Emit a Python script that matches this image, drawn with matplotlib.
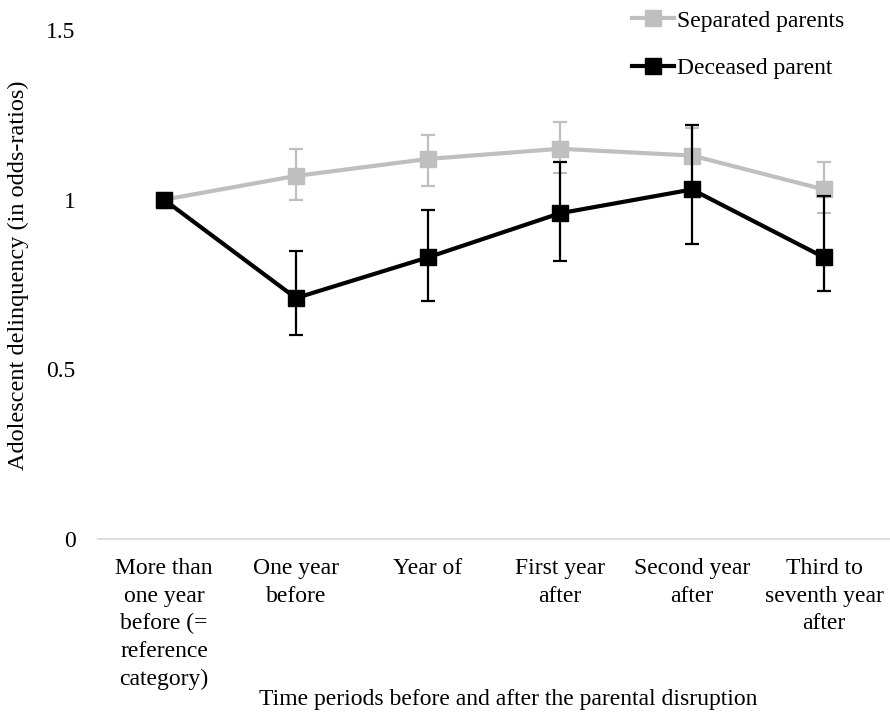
import matplotlib
matplotlib.use("Agg")
import matplotlib.pyplot as plt
import numpy as np

categories = ["More than\none year\nbefore (=\nreference\ncategory)", "One year\nbefore", "Year of",
              "First year\nafter", "Second year\nafter", "Third to\nseventh year\nafter"]
separated = [1.0, 1.07, 1.12, 1.15, 1.13, 1.03]
separated_lo = [1.0, 1.00, 1.04, 1.08, 1.05, 0.96]
separated_hi = [1.0, 1.15, 1.19, 1.23, 1.21, 1.11]
deceased = [1.0, 0.71, 0.83, 0.96, 1.03, 0.83]
deceased_lo = [1.0, 0.60, 0.70, 0.82, 0.87, 0.73]
deceased_hi = [1.0, 0.85, 0.97, 1.11, 1.22, 1.01]
yticks = [0, 0.5, 1, 1.5]
ytick_labels = ["0", "0.5", "1", "1.5"]

plt.rcParams['font.family'] = ['Liberation Serif', 'DejaVu Serif']

fig = plt.figure(figsize=(8.9, 7.15), dpi=100)
ax = fig.add_axes([98/890, 1 - 539/715, (890 - 98)/890, (539 - 30)/715])

x = np.arange(len(categories))
grey = "#bfbfbf"

def err(v, lo, hi):
    v = np.array(v); return [v - np.array(lo), np.array(hi) - v]

# separated
ax.errorbar(x[1:], separated[1:], yerr=[e[1:] for e in err(separated, separated_lo, separated_hi)],
            fmt='none', ecolor=grey, elinewidth=1.6, capsize=5, capthick=1.6, zorder=2)
ax.plot(x, separated, color=grey, lw=3, marker='s', markersize=11, zorder=3, label="Separated parents")
# deceased
ax.plot(x, deceased, color='black', lw=3, marker='s', markersize=11, zorder=4, label="Deceased parent")
ax.errorbar(x[1:], deceased[1:], yerr=[e[1:] for e in err(deceased, deceased_lo, deceased_hi)],
            fmt='none', ecolor='black', elinewidth=1.6, capsize=5, capthick=1.6, zorder=5)

ax.set_xlim(-0.5, len(categories) - 0.5)
ax.set_ylim(0, 1.5)
ax.set_yticks(yticks)
ax.set_yticklabels(ytick_labels, fontsize=17)
ax.set_xticks(x)
ax.set_xticklabels(categories, fontsize=17, linespacing=1.4, va='top')
ax.tick_params(axis='both', length=0)
ax.tick_params(axis='y', pad=16)
ax.tick_params(axis='x', pad=14)
for s in ['top', 'right', 'left']:
    ax.spines[s].set_visible(False)
ax.spines['bottom'].set_color('#d9d9d9')
ax.spines['bottom'].set_linewidth(1.2)

fig.text(18.5/890, 1 - 275/715, "Adolescent delinquency (in odds-ratios)", rotation=90,
         ha='center', va='center', fontsize=17.5)
fig.text(508/890, 1 - 700/715, "Time periods before and after the parental disruption",
         ha='center', va='center', fontsize=17)

leg = fig.legend(loc='upper left', bbox_to_anchor=(625/890, 1 - 3/715), frameon=False,
                 fontsize=17, handlelength=1.78, handletextpad=0.13, labelspacing=1.1,
                 borderaxespad=0, borderpad=0.3)

fig.savefig("out.png", dpi=100)
